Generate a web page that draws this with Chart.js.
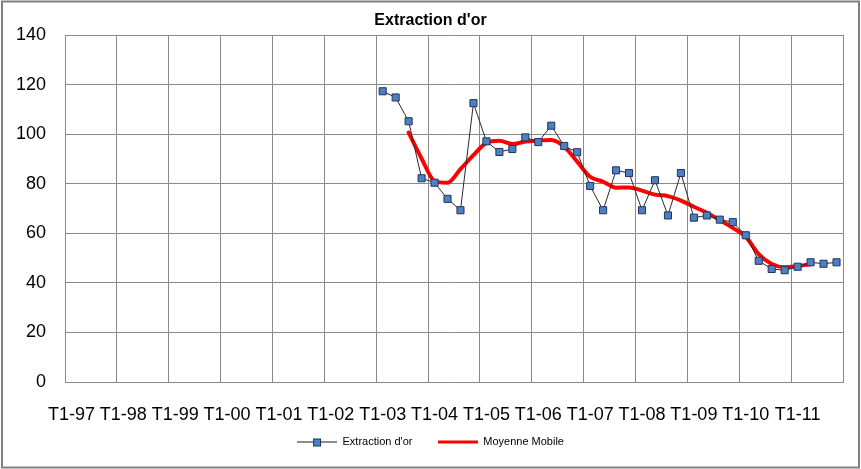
<!DOCTYPE html>
<html>
<head>
<meta charset="utf-8">
<script src="https://cdn.jsdelivr.net/npm/chart.js@4/dist/chart.umd.min.js"></script>
<style>
  html, body { margin: 0; padding: 0; background: #fff; }
  #wrap { width: 861px; height: 469px; position: relative; }
</style>
</head>
<body>
<div id="wrap"><canvas id="chartCanvas"></canvas></div>
<script>
// Quarterly categories, T1-97 .. T4-11
const quarters = [
  'T1-97', 'T2-97', 'T3-97', 'T4-97',
  'T1-98', 'T2-98', 'T3-98', 'T4-98',
  'T1-99', 'T2-99', 'T3-99', 'T4-99',
  'T1-00', 'T2-00', 'T3-00', 'T4-00',
  'T1-01', 'T2-01', 'T3-01', 'T4-01',
  'T1-02', 'T2-02', 'T3-02', 'T4-02',
  'T1-03', 'T2-03', 'T3-03', 'T4-03',
  'T1-04', 'T2-04', 'T3-04', 'T4-04',
  'T1-05', 'T2-05', 'T3-05', 'T4-05',
  'T1-06', 'T2-06', 'T3-06', 'T4-06',
  'T1-07', 'T2-07', 'T3-07', 'T4-07',
  'T1-08', 'T2-08', 'T3-08', 'T4-08',
  'T1-09', 'T2-09', 'T3-09', 'T4-09',
  'T1-10', 'T2-10', 'T3-10', 'T4-10',
  'T1-11', 'T2-11', 'T3-11', 'T4-11'
];

// Extraction d'or, from T1-03 onwards
const extraction = [
  null, null, null, null, null, null, null, null, null, null, null, null,
  null, null, null, null, null, null, null, null, null, null, null, null,
  117.3, 114.8, 105.2, 82.2, 80.4, 73.9, 69.3, 112.5,
  97.1, 92.8, 94.0, 98.7, 96.8, 103.4, 95.2, 92.7,
  79.1, 69.3, 85.4, 84.3, 69.3, 81.4, 67.2, 84.3,
  66.3, 67.2, 65.5, 64.5, 59.2, 48.9, 45.6, 45.1,
  46.5, 48.3, 47.7, 48.3
];

// Moyenne Mobile, T3-03 .. T2-11
const moyenne = [
  null, null, null, null, null, null, null, null, null, null, null, null,
  null, null, null, null, null, null, null, null, null, null, null, null,
  null, null,
  100.6, 90.2, 81.1, 80.4, 85.9, 91.5,
  96.5, 97.3, 96.0, 97.0, 97.4, 97.6, 94.9, 88.9,
  82.8, 80.8, 78.4, 78.5, 77.2, 75.6, 75.0, 73.2,
  70.7, 68.3, 65.3, 62.2, 58.6, 51.6, 47.6, 46.3,
  46.8, 47.5, null, null
];

const yMin = 0;
const yMax = 140;
const yStep = 20;

const gridGray = '#8a8a8a';
const fontName = "'Liberation Sans', Arial, sans-serif";

// legend swatch: line with square marker in the middle
function makeSwatch(lineColor, lineWidth, withMarker) {
  const c = document.createElement('canvas');
  c.width = 40;
  c.height = 12;
  const g = c.getContext('2d');
  g.strokeStyle = lineColor;
  g.lineWidth = lineWidth;
  g.beginPath();
  g.moveTo(0, lineWidth % 2 ? 6.5 : 6);
  g.lineTo(40, lineWidth % 2 ? 6.5 : 6);
  g.stroke();
  if (withMarker) {
    g.fillStyle = '#4f7fbf';
    g.fillRect(16.5, 3.5, 7, 7);
    g.strokeStyle = '#1c3560';
    g.lineWidth = 1;
    g.strokeRect(16.5, 3.5, 7, 7);
  }
  return c;
}

const swatches = [makeSwatch('#1a1a1a', 1, true), makeSwatch('#ff0000', 3, false)];

const frame = {
  id: 'frame',
  beforeDraw(chart) {
    const c = chart.ctx;
    c.save();
    c.fillStyle = '#ffffff';
    c.fillRect(0, 0, chart.width, chart.height);
    c.restore();
  },
  afterDraw(chart) {
    const c = chart.ctx;
    c.save();
    c.strokeStyle = '#808080';
    c.lineWidth = 2;
    c.strokeRect(2, 1.5, chart.width - 4, chart.height - 3);
    c.restore();
  }
};

const chartCanvas = document.getElementById('chartCanvas');

const myChart = new Chart(chartCanvas, {
  type: 'line',
  data: {
    labels: quarters,
    datasets: [
      {
        label: "Extraction d'or",
        data: extraction,
        borderColor: '#2b2b2b',
        borderWidth: 1,
        pointStyle: 'rect',
        pointRadius: 5,
        pointBackgroundColor: '#4f7fbf',
        pointBorderColor: '#1c3560',
        pointBorderWidth: 1,
        tension: 0,
        spanGaps: false
      },
      {
        label: 'Moyenne Mobile',
        data: moyenne,
        borderColor: '#ff0000',
        borderWidth: 4,
        pointRadius: 0,
        cubicInterpolationMode: 'monotone',
        borderCapStyle: 'round',
        borderJoinStyle: 'round'
      }
    ]
  },
  options: {
    responsive: true,
    maintainAspectRatio: false,
    animation: false,
    layout: { padding: { left: 0, right: 0, top: 0, bottom: 12 } },
    plugins: {
      title: {
        display: true,
        text: "Extraction d'or",
        color: '#000',
        font: { family: fontName, size: 16, weight: 'bold', lineHeight: 1.125 },
        padding: { top: 12, bottom: 5 }
      },
      legend: {
        position: 'bottom',
        labels: {
          usePointStyle: true,
          pointStyleWidth: 40,
          padding: 10,
          color: '#1a1a1a',
          font: { family: fontName, size: 11 },
          generateLabels(chart) {
            return chart.data.datasets.map((ds, i) => ({
              // trailing spaces widen the gap between the two entries
              text: i === 0 ? ds.label + '     ' : ds.label,
              pointStyle: swatches[i],
              fillStyle: 'transparent',
              strokeStyle: 'transparent',
              lineWidth: 0,
              datasetIndex: i,
              hidden: false
            }));
          }
        }
      },
      tooltip: { enabled: false }
    },
    scales: {
      x: {
        type: 'category',
        offset: true,
        grid: {
          offset: true,
          drawTicks: false,
          lineWidth: 1,
          color: (c) => (c.index === undefined || c.index % 4 === 0) ? gridGray : 'transparent'
        },
        border: { color: gridGray },
        ticks: {
          autoSkip: false,
          maxRotation: 0,
          minRotation: 0,
          padding: 22,
          color: '#000',
          font: { family: fontName, size: 18 },
          callback: (v, i) => i % 4 === 0 ? quarters[i] : ''
        },
        afterFit: (s) => { s.height = 44; }
      },
      y: {
        position: 'left',
        min: yMin,
        max: yMax,
        grid: { color: gridGray, drawTicks: false },
        border: { color: gridGray },
        ticks: {
          stepSize: yStep,
          padding: 19,
          color: '#000',
          font: { family: fontName, size: 18 }
        },
        afterFit: (s) => { s.width = 65; }
      },
      yRight: {
        position: 'right',
        display: true,
        grid: { display: false },
        border: { display: false },
        ticks: { display: false },
        afterFit: (s) => { s.width = 18; }
      }
    }
  },
  plugins: [frame]
});
</script>
</body>
</html>
